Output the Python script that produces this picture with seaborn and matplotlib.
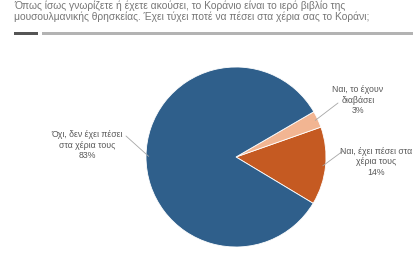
"""Pie chart: has the respondent ever held the Koran."""

import numpy as np
import matplotlib
matplotlib.use("Agg")
import matplotlib.pyplot as plt
from matplotlib.patches import Rectangle
import seaborn as sns

QUESTION = ("Όπως ίσως γνωρίζετε ή έχετε ακούσει, το Κοράνιο είναι το ιερό βιβλίο της\n"
            "μουσουλμανικής θρησκείας. Έχει τύχει ποτέ να πέσει στα χέρια σας το Κοράνι;")
CATEGORIES = ["Ναι, έχει πέσει στα\nχέρια τους", "Ναι, το έχουν\nδιαβάσει",
              "Όχι, δεν έχει πέσει\nστα χέρια τους"]
SHARES = [14, 3, 83]
COLORS = ["#c55a22", "#f2b592", "#2f5f8b"]

# label text centres and leader-line ends, in pixel coords (y down)
LABEL_POS = [(376, 162), (358, 100), (87, 145)]
LEADER_END = [(343, 151), (338, 103), (126, 136)]

W, H = 414, 259
CENTER = (236, 157)
RADIUS = 90

sns.set_theme(style="white")
plt.rcParams["font.family"] = ["Liberation Sans", "DejaVu Sans"]

fig = plt.figure(figsize=(W / 100, H / 100), dpi=100)
fig.patch.set_facecolor("white")
ax = fig.add_axes([0, 0, 1, 1])

wedges, _ = ax.pie(SHARES, colors=COLORS, startangle=-31, counterclock=True,
                   center=(CENTER[0], H - CENTER[1]), radius=RADIUS,
                   wedgeprops=dict(linewidth=0.6, edgecolor="white"))
ax.set_xlim(0, W)
ax.set_ylim(0, H)
ax.axis("off")

for wedge, cat, share, pos, end in zip(wedges, CATEGORIES, SHARES, LABEL_POS, LEADER_END):
    mid = np.deg2rad((wedge.theta1 + wedge.theta2) / 2)
    sx = CENTER[0] + RADIUS * 0.97 * np.cos(mid)
    sy = H - CENTER[1] + RADIUS * 0.97 * np.sin(mid)
    ax.plot([sx, end[0]], [sy, H - end[1]], color="#a6a6a6", lw=0.6)
    ax.text(pos[0], H - pos[1], f"{cat}\n{share}%", ha="center", va="center",
            fontsize=6.3, color="#595959", linespacing=1.15)

ax.text(14, H - 11, QUESTION, ha="left", va="center", fontsize=7.4,
        color="#777777", linespacing=1.1)
ax.add_patch(Rectangle((14, H - 35), 24, 3.5, color="#555555", lw=0))
ax.add_patch(Rectangle((42, H - 35), W - 42, 3.5, color="#b3b3b3", lw=0))

fig.savefig("out.png", dpi=100)
